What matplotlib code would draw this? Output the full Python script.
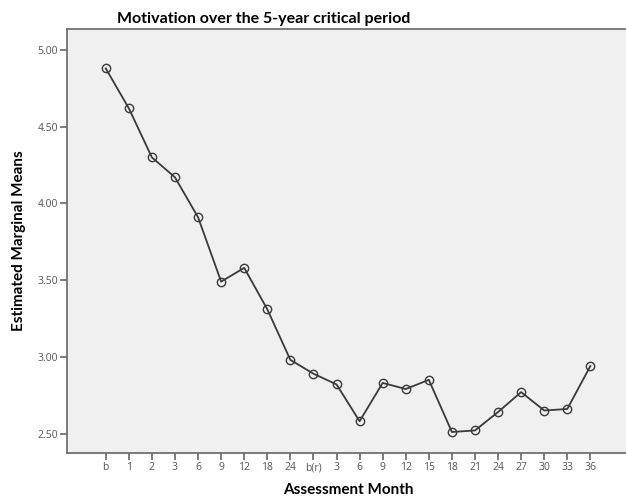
import matplotlib
matplotlib.use("Agg")
import matplotlib.pyplot as plt

months = ["b", "1", "2", "3", "6", "9", "12", "18", "24", "b(r)", "3", "6",
          "9", "12", "15", "18", "21", "24", "27", "30", "33", "36"]
means = [4.88, 4.62, 4.30, 4.17, 3.91, 3.49, 3.58, 3.31, 2.98, 2.89, 2.82, 2.58,
         2.83, 2.79, 2.85, 2.51, 2.52, 2.64, 2.77, 2.65, 2.66, 2.94]
yticks = [2.50, 3.00, 3.50, 4.00, 4.50, 5.00]

plt.rcParams["font.family"] = ["Open Sans", "DejaVu Sans"]

fig = plt.figure(figsize=(6.26, 5.0), dpi=100)
# right edge runs just past the canvas, as in the cropped original
ax = fig.add_axes([0.107, 0.094, 0.898, 0.848])
ax.set_facecolor("#f0f0f0")

x = list(range(len(months)))
ax.plot(x, means, color="#3a3a3a", lw=1.3, marker="o", ms=6,
        mfc="none", mec="#3a3a3a", mew=1.0)

ax.set_xlim(-1.68, len(months) - 1 + 1.68)
ax.set_ylim(2.373, 5.137)
ax.set_xticks(x)
ax.set_xticklabels(months)
ax.set_yticks(yticks)
ax.set_yticklabels([f"{v:.2f}" for v in yticks])

for s in ["top", "left", "bottom"]:
    ax.spines[s].set_color("#666666")
    ax.spines[s].set_linewidth(1.2)
ax.spines["right"].set_visible(False)
ax.tick_params(direction="out", length=5, width=1.2, color="#666666",
               labelsize=7.5, labelcolor="#555555", pad=1.5)

bold = dict(family=["Lato", "DejaVu Sans"], fontweight="bold")
ax.set_xlabel("Assessment Month", fontsize=11, labelpad=7, **bold)
ax.set_ylabel("Estimated Marginal Means", fontsize=11, labelpad=8, **bold)
fig.text(0.422, 0.963, "Motivation over the 5-year critical period",
         ha="center", va="center", fontsize=11.5, **bold)

fig.savefig("out.png", dpi=100)
